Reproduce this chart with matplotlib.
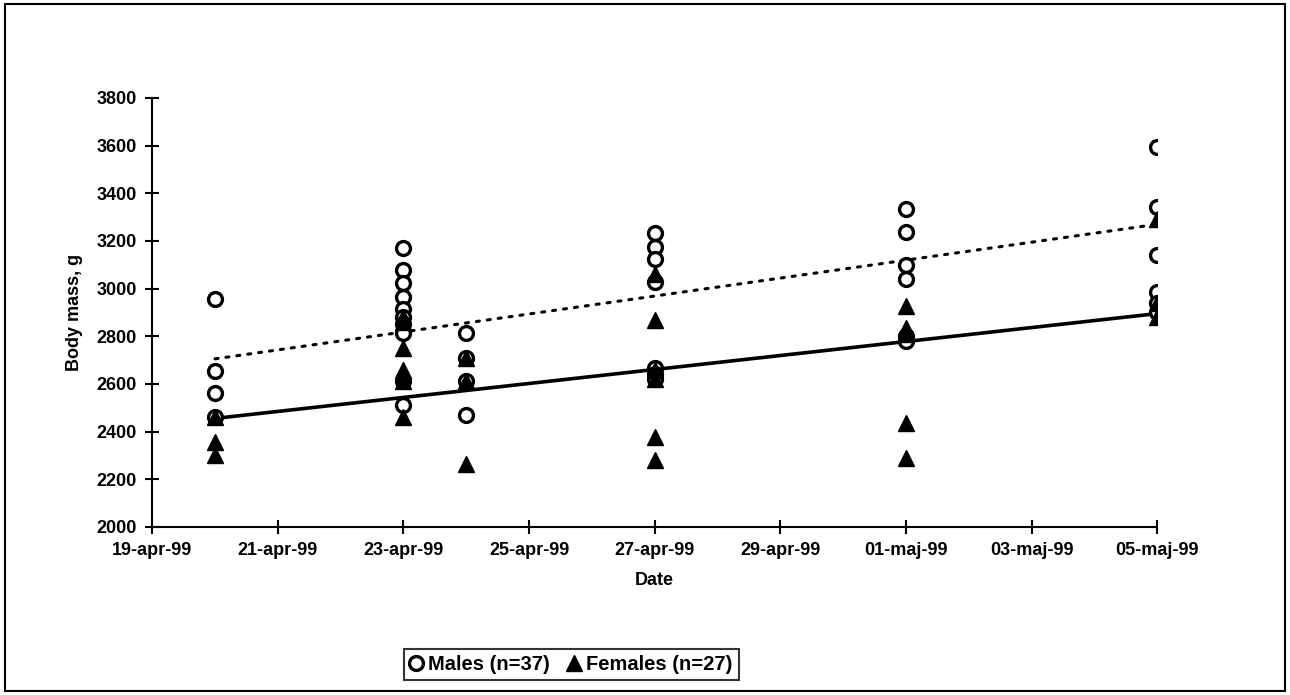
import matplotlib.pyplot as plt
from matplotlib.patches import Rectangle
import numpy as np

plt.rcParams['font.family'] = ['Liberation Sans', 'DejaVu Sans']

# body mass readings (g) per capture date
males_date = (['1999-04-20'] * 4 + ['1999-04-23'] * 10 + ['1999-04-24'] * 4
              + ['1999-04-27'] * 7 + ['1999-05-01'] * 6 + ['1999-05-05'] * 6)
males_mass = [2955, 2655, 2560, 2460,
              3170, 3078, 3024, 2965, 2915, 2880, 2850, 2815, 2610, 2510,
              2815, 2710, 2610, 2470,
              3234, 3175, 3125, 3028, 2665, 2640, 2620,
              3334, 3238, 3100, 3040, 2800, 2780,
              3595, 3343, 3141, 2986, 2940, 2900]

females_date = (['1999-04-20'] * 3 + ['1999-04-23'] * 7 + ['1999-04-24'] * 3
                + ['1999-04-27'] * 6 + ['1999-05-01'] * 5 + ['1999-05-05'] * 3)
females_mass = [2460, 2355, 2300,
                2880, 2860, 2750, 2660, 2640, 2610, 2460,
                2710, 2610, 2265,
                3060, 2870, 2660, 2620, 2375, 2280,
                2925, 2835, 2810, 2435, 2290,
                3290, 2940, 2880]

# trend lines (start / end)
trend_date = ['1999-04-20', '1999-05-05']
males_trend = [2705, 3270]
females_trend = [2455, 2895]

tick_dates = ['1999-04-19', '1999-04-21', '1999-04-23', '1999-04-25', '1999-04-27',
              '1999-04-29', '1999-05-01', '1999-05-03', '1999-05-05']
tick_labels = ['19-apr-99', '21-apr-99', '23-apr-99', '25-apr-99', '27-apr-99',
               '29-apr-99', '01-maj-99', '03-maj-99', '05-maj-99']

to_dt = lambda d: np.array(d, dtype='datetime64[D]')

fig = plt.figure(figsize=(12.9, 6.95), dpi=100)
ax = fig.add_axes([0.118, 0.242, 0.779, 0.617])

ax.plot(to_dt(trend_date), males_trend, color='black', lw=2.2, ls=(0, (1.0, 2.6)),
        dash_capstyle='round', zorder=2)
ax.plot(to_dt(trend_date), females_trend, color='black', lw=2.6, zorder=2)

ax.plot(to_dt(males_date), males_mass, ls='none', marker='o', ms=10, mfc='white',
        mec='black', mew=2.4, label='Males (n=37)', zorder=3)
ax.plot(to_dt(females_date), females_mass, ls='none', marker='^', ms=11, color='black',
        label='Females (n=27)', zorder=4)

ax.set_xlim(to_dt('1999-04-19'), to_dt('1999-05-05'))
ax.set_ylim(2000, 3800)
ax.set_yticks(np.arange(2000, 3801, 200))
ax.set_xticks(to_dt(tick_dates))
ax.set_xticklabels(tick_labels)

for s in ['top', 'right']:
    ax.spines[s].set_visible(False)
for s in ['left', 'bottom']:
    ax.spines[s].set_linewidth(1.5)
ax.tick_params(direction='inout', length=10, width=1.5, labelsize=13, pad=6)
for lab in ax.get_xticklabels() + ax.get_yticklabels():
    lab.set_fontweight('bold')

ax.set_xlabel('Date', fontsize=13, fontweight='bold', labelpad=9)
ax.set_ylabel('Body mass, g', fontsize=13, fontweight='bold', labelpad=10)

leg = fig.legend(loc='center', bbox_to_anchor=(0.443, 0.044), ncol=2, frameon=True,
                 fancybox=False, edgecolor='black', handlelength=0.6, handletextpad=0.3,
                 columnspacing=0.9, borderpad=0.3,
                 prop={'size': 14.5, 'weight': 'bold'})
leg.get_frame().set_linewidth(1.5)

fig.patches.append(Rectangle((0.004, 0.006), 0.992, 0.988, transform=fig.transFigure,
                             fill=False, edgecolor='black', lw=1.5))

fig.savefig('out.png', dpi=100)
